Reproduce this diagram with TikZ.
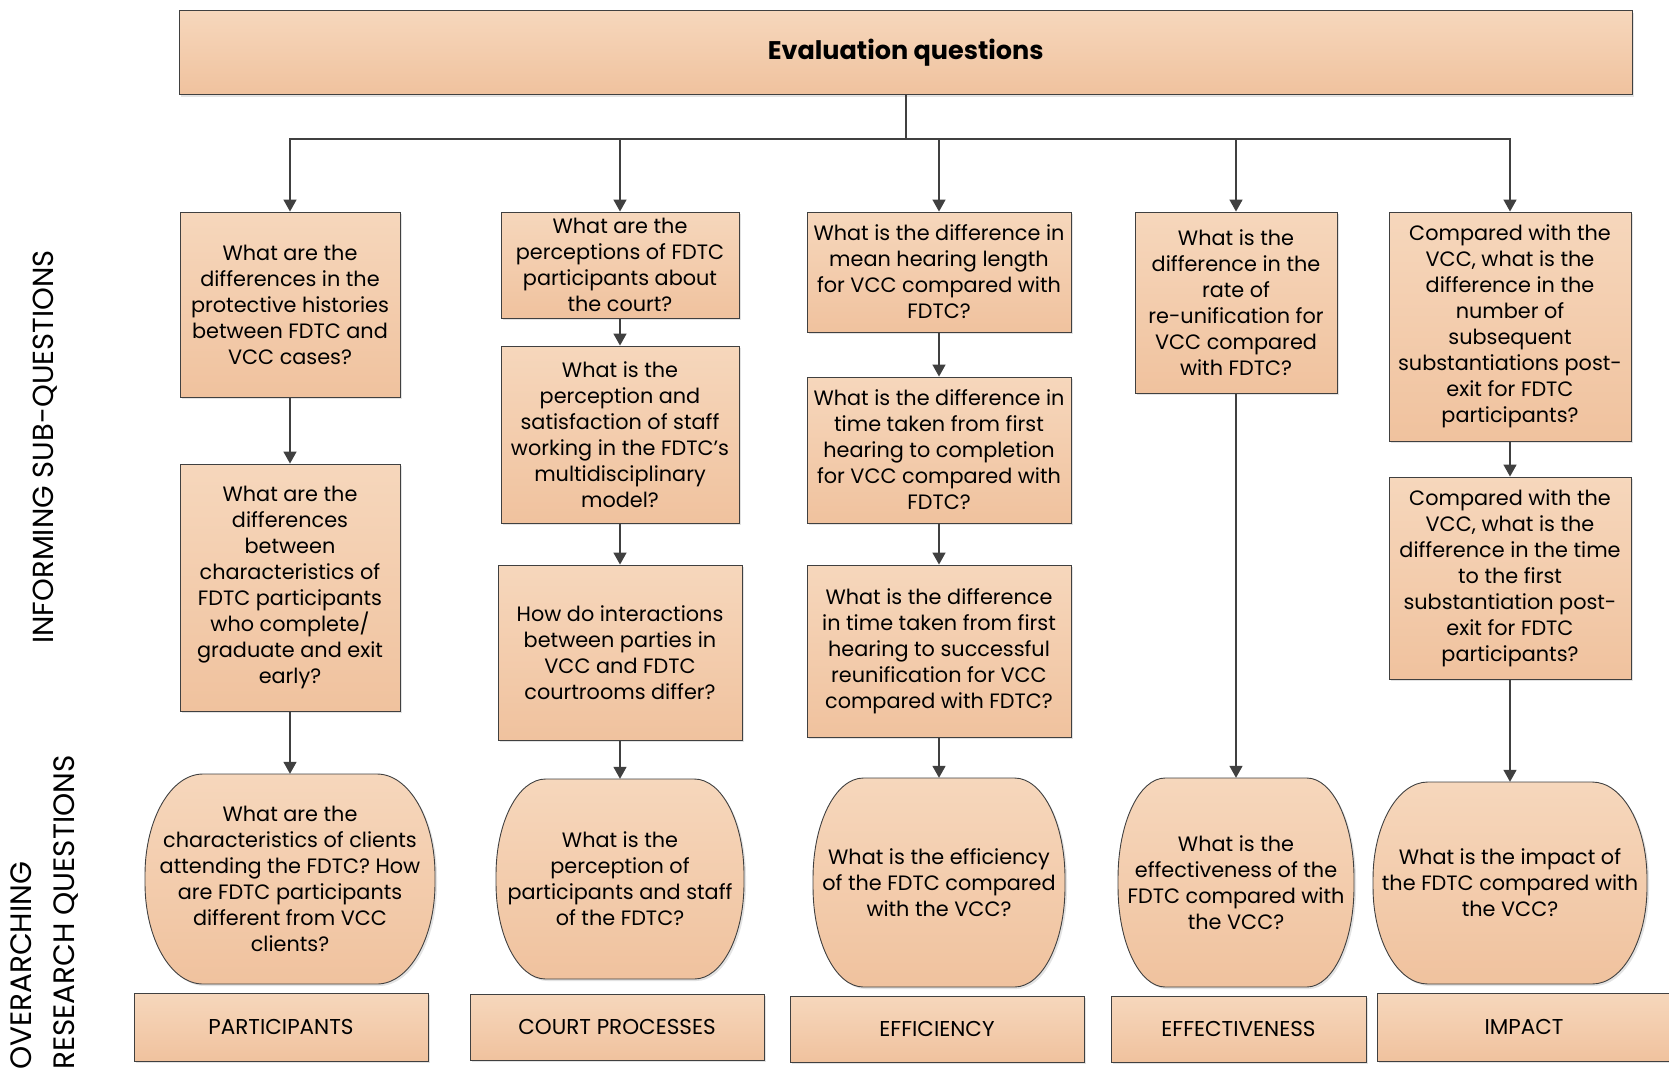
\documentclass[tikz,border=0pt]{standalone}
\usepackage{fontspec}
\setmainfont{Poppins}
\usetikzlibrary{arrows.meta,shadows}
\definecolor{ctop}{HTML}{F6D7BC}
\definecolor{cbot}{HTML}{F0C29E}
\definecolor{linec}{HTML}{404040}
\newcommand\qfont{\fontsize{20.8}{26}\selectfont}
\newcommand\qbox[6]{\node[box,minimum width={#4-#2},minimum height={#5-#3}] (#1) at ({(#2+#4)/2},{(#3+#5)/2}) {#6};}
\newcommand\qround[6]{%
  \pgfmathsetmacro\qrx{0.2*(#4-#2)}%
  \pgfmathsetmacro\qry{0.48*(#5-#3)}%
  \path[roundfill] ({#2+\qrx},#3) -- ({#4-\qrx},#3)
     arc[start angle=90,end angle=0,x radius=\qrx pt,y radius=\qry pt]
     -- (#4,{#5-\qry})
     arc[start angle=0,end angle=-90,x radius=\qrx pt,y radius=\qry pt]
     -- ({#2+\qrx},#5)
     arc[start angle=270,end angle=180,x radius=\qrx pt,y radius=\qry pt]
     -- (#2,{#3+\qry})
     arc[start angle=180,end angle=90,x radius=\qrx pt,y radius=\qry pt] -- cycle;
  \node[qtext,minimum width={#4-#2},minimum height={#5-#3}] (#1) at ({(#2+#4)/2},{(#3+#5)/2}) {#6};}
\begin{document}
\begin{tikzpicture}[x=1pt,y=-1pt,
  shadowed/.style={drop shadow={shadow xshift=2pt,shadow yshift=-2pt,fill=black!22}},
  box/.style={draw=linec,line width=0.9pt,top color=ctop,bottom color=cbot,align=center,inner sep=0pt,font=\qfont,shadowed},
  roundfill/.style={draw=linec,line width=0.9pt,top color=ctop,bottom color=cbot,shadowed},
  qtext/.style={align=center,inner sep=0pt,font=\qfont},
  catlabel/.style={box,font=\fontsize{21.5}{24}\selectfont},
  conn/.style={draw=linec,line width=1.8pt},
  arr/.style={conn,line width=1.6pt,-{Triangle[length=12pt,width=13pt]}},
  side/.style={rotate=90,inner sep=0pt,text=black}]
\useasboundingbox (0,0) rectangle (1669,1077);
\clip (0,0) rectangle (1669,1077);
% title
\node[box,minimum width=1452.7,minimum height=84,font=\bfseries\fontsize{25.5}{28}\selectfont] (top) at (905.7,52.5) {Evaluation questions};
% side labels
\node[side,font=\fontsize{29}{30}\selectfont] (lab1) at (44.7,447) {INFORMING SUB-QUESTIONS};
\node[side,anchor=west,align=left,font=\fontsize{29.5}{43}\selectfont] (lab2) at (44.7,1070) {OVERARCHING\\RESEARCH QUESTIONS};
% column 1
\qbox{A1}{180}{212}{400}{397}{What are the\\differences in the\\protective histories\\between FDTC and\\VCC cases?}
\qbox{A2}{180}{464}{400}{711}{What are the\\differences\\between\\characteristics of\\FDTC participants\\who complete/\\graduate and exit\\early?}
\qround{A3}{145}{774}{435}{984}{What are the\\characteristics of clients\\attending the FDTC? How\\are FDTC participants\\different from VCC\\clients?}
\node[catlabel,minimum width=294,minimum height=68] (P) at (281,1027) {PARTICIPANTS};
% column 2
\qbox{B1}{501}{212}{739}{318}{What are the\\perceptions of FDTC\\participants about\\the court?}
\qbox{B2}{501}{346}{739}{523}{What is the\\perception and\\satisfaction of staff\\working in the FDTC’s\\multidisciplinary\\model?}
\qbox{B3}{498}{565}{742}{740}{How do interactions\\between parties in\\VCC and FDTC\\courtrooms differ?}
\qround{B4}{496}{779}{744}{979}{What is the\\perception of\\participants and staff\\of the FDTC?}
\node[catlabel,minimum width=294,minimum height=66] (CP) at (617,1027) {COURT PROCESSES};
% column 3
\qbox{C1}{807}{212}{1071}{332}{What is the difference in\\mean hearing length\\for VCC compared with\\FDTC?}
\qbox{C2}{807}{377}{1071}{523}{What is the difference in\\time taken from first\\hearing to completion\\for VCC compared with\\FDTC?}
\qbox{C3}{807}{565}{1071}{737}{What is the difference\\in time taken from first\\hearing to successful\\reunification for VCC\\compared with FDTC?}
\qround{C4}{813}{778}{1065}{987}{What is the efficiency\\of the FDTC compared\\with the VCC?}
\node[catlabel,minimum width=294,minimum height=66] (EF) at (937,1029) {EFFICIENCY};
% column 4
\qbox{D1}{1135}{212}{1337}{393}{What is the\\difference in the\\rate of\\re-unification for\\VCC compared\\with FDTC?}
\qround{D2}{1118}{778}{1354}{987}{What is the\\effectiveness of the\\FDTC compared with\\the VCC?}
\node[catlabel,minimum width=255,minimum height=66] (EV) at (1238.5,1029) {EFFECTIVENESS};
% column 5
\qbox{E1}{1389}{212}{1631}{441}{Compared with the\\VCC, what is the\\difference in the\\number of\\subsequent\\substantiations post-\\exit for FDTC\\participants?}
\qbox{E2}{1389}{477}{1631}{679}{Compared with the\\VCC, what is the\\difference in the time\\to the first\\substantiation post-\\exit for FDTC\\participants?}
\qround{E3}{1373}{782}{1647}{984}{What is the impact of\\the FDTC compared with\\the VCC?}
\node[catlabel,minimum width=294,minimum height=68] (IM) at (1524,1027) {IMPACT};
% connectors
\coordinate (bus) at (905.7,139);
\draw[conn] (top.south) -- (bus);
\foreach \n in {A1,B1,C1,D1,E1} \draw[arr] (bus) -| (\n.north);
\draw[arr] (A1.south) -- (A2.north);
\draw[arr] (A2.south) -- (A3.north);
\draw[arr] (B1.south) -- (B2.north);
\draw[arr] (B2.south) -- (B3.north);
\draw[arr] (B3.south) -- (B4.north);
\draw[arr] (C1.south) -- (C2.north);
\draw[arr] (C2.south) -- (C3.north);
\draw[arr] (C3.south) -- (C4.north);
\draw[arr] (D1.south) -- (D2.north);
\draw[arr] (E1.south) -- (E2.north);
\draw[arr] (E2.south) -- (E3.north);
\end{tikzpicture}
\end{document}
